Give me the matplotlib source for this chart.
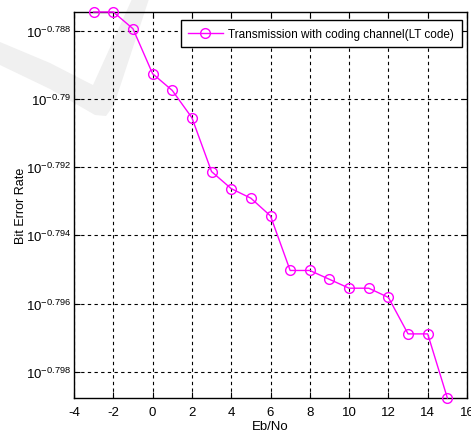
import matplotlib
matplotlib.use("Agg")
import matplotlib.pyplot as plt
from matplotlib.patches import Polygon
from matplotlib.ticker import FixedLocator, FixedFormatter, NullLocator

# ---- data ----
ebno = [-3, -2, -1, 0, 1, 2, 3, 4, 5, 6, 7, 8, 9, 10, 11, 12, 13, 14, 15]
ber_exponent = [-0.78745, -0.78745, -0.78794, -0.78926, -0.78975, -0.79055,
                -0.79213, -0.79263, -0.79291, -0.79343, -0.79503, -0.79503,
                -0.79529, -0.79555, -0.79555, -0.79582, -0.79689, -0.79689,
                -0.79877]
ber = [10 ** e for e in ber_exponent]
ytick_exponents = [-0.798, -0.796, -0.794, -0.792, -0.79, -0.788]
ytick_texts = ["-0.798", "-0.796", "-0.794", "-0.792", "-0.79", "-0.788"]
xticks = list(range(-4, 17, 2))
series_label = "Transmission with coding channel(LT code)"

plt.rcParams['font.family'] = ["Liberation Sans", "DejaVu Sans"]

W, H = 471, 439
fig = plt.figure(figsize=(W / 100, H / 100), dpi=100)

# very light gray watermark (check-mark shape) in pixel coordinates
wm_px = [(0, 43), (50, 64), (85, 82), (93, 86), (132, 0), (149, 0),
         (114, 106), (106, 117), (95, 116), (50, 90), (0, 66)]
wm = Polygon([(x / W, 1 - y / H) for x, y in wm_px], closed=True,
             transform=fig.transFigure, facecolor="#f0f0f0", edgecolor="none",
             zorder=-5)
fig.patches.append(wm)

ax = fig.add_axes([74 / W, 1 - 399 / H, 393 / W, 386 / H])
ax.set_facecolor("none")
ax.set_zorder(1)
ax.set_yscale("log")

ax.plot(ebno, ber, color="#ff00ff", linewidth=1.0, marker="o",
        markersize=7, markerfacecolor="none", markeredgecolor="#ff00ff",
        markeredgewidth=1.0, label=series_label, clip_on=False, zorder=3)

ax.set_xlim(-4, 16)
ax.set_ylim(min(ber), max(ber))
ax.set_xticks(xticks)
ax.set_xticklabels([str(t) for t in xticks])

ax.yaxis.set_major_locator(FixedLocator([10 ** e for e in ytick_exponents]))
ax.yaxis.set_major_formatter(FixedFormatter(
    [r"$\mathregular{10^{%s}}$" % t for t in ytick_texts]))
ax.yaxis.set_minor_locator(NullLocator())

ax.tick_params(axis="both", which="both", direction="in", length=4,
               top=True, right=True, labelsize=9.5, width=0.8)
ax.tick_params(axis="x", pad=6)
ax.tick_params(axis="y", pad=2)
for s in ax.spines.values():
    s.set_linewidth(1.0)
    s.set_color("black")

ax.grid(True, color="black", linestyle=(0, (3, 3)), linewidth=0.8)

ax.set_xlabel("Eb/No", fontsize=9.5)
ax.set_ylabel("Bit Error Rate", fontsize=9)
ax.xaxis.set_label_coords(0.5, -(421 - 399) / 386)
ax.xaxis.label.set_va("top")
ax.yaxis.set_label_coords((21 - 74) / 393, 0.5)
ax.yaxis.label.set_va("center")

leg = ax.legend(loc="upper right", fontsize=8.5, frameon=True, fancybox=False,
                framealpha=1, edgecolor="black",
                bbox_to_anchor=(1 - 5 / 393, 1 - 8 / 386),
                borderaxespad=0, handlelength=2.9, handletextpad=0.5,
                borderpad=0.65)
leg.get_frame().set_linewidth(1.0)

fig.savefig("out.png", dpi=100)
